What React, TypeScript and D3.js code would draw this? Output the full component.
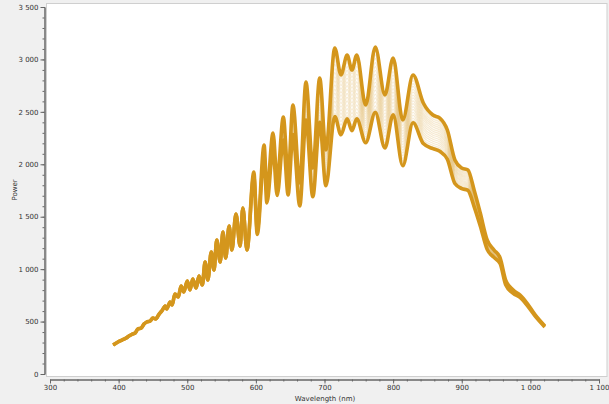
import React, { useRef, useEffect } from 'react'
import * as d3 from 'd3'

// sample wavelengths (nm) along the spectrum, peaks and troughs
const wavelengths = [
    392, 399, 405, 411, 415, 420, 424, 428, 433, 437, 441, 446, 450, 454, 459,
    463, 468, 470, 475, 478, 482, 487, 491, 495, 500, 504, 508, 513, 517, 522,
    526, 530, 535, 539, 543, 548, 552, 556, 561, 565, 571, 577, 581, 587, 597,
    602, 612, 616, 625, 631, 640, 647, 654, 664, 673, 683, 693, 702, 715, 724,
    733, 740, 747, 760, 774, 788, 800, 814, 829, 844, 858, 868, 879, 890, 900,
    909, 918, 927, 937, 947, 956, 964, 975, 985, 995, 1007, 1021,
]

// brightest spectrum in the set
const peakPower = [
    277, 305, 324, 343, 362, 381, 391, 429, 439, 477, 496, 505, 534, 525, 572,
    601, 649, 620, 687, 658, 763, 734, 839, 782, 887, 801, 906, 820, 935, 849,
    1068, 896, 1164, 992, 1278, 1068, 1354, 1106, 1411, 1183, 1526, 1221, 1583, 1183, 1926,
    1373, 2184, 1736, 2298, 1850, 2451, 1898, 2565, 1822, 2785, 1965, 2823, 2137, 3109, 2852,
    3042, 2899, 3042, 2565, 3119, 2661, 3014, 2422, 2852, 2585, 2470, 2441, 2327, 2041, 1965,
    1946, 1755, 1535, 1278, 1183, 1106, 896, 801, 753, 677, 563, 458,
]

// dimmest spectrum as a fraction of the brightest one
const dimRatio = [
    1, 1, 1, 1, 1, 1, 1, 1, 1, 1, 1, 1, 1, 1, 1,
    1, 1, 1, 1, 1, 1, 1, 1, 1, 1, 1, 1, 1, 1, 1,
    1, 1, 1, 1, 1, 1, 1, 1, 1, 1, 1, 1, 1, 1, 0.98,
    0.97, 0.95, 0.94, 0.93, 0.92, 0.91, 0.9, 0.89, 0.88, 0.87, 0.86, 0.85, 0.84, 0.79, 0.8,
    0.8, 0.8, 0.8, 0.86, 0.8, 0.81, 0.82, 0.82, 0.84, 0.85, 0.87, 0.87, 0.88, 0.89, 0.9,
    0.9, 0.91, 0.92, 0.93, 0.94, 0.95, 0.95, 0.96, 0.97, 0.97, 0.98, 0.98,
]

// position of each recorded spectrum between the brightest (0) and dimmest (1)
const curveLevels = [
    0, 0.06, 0.12, 0.18, 0.24, 0.3, 0.36, 0.42, 0.48, 0.54,
    0.6, 0.66, 0.72, 0.78, 0.84, 0.9, 0.95, 1,
]

const powerTicks = [0, 500, 1000, 1500, 2000, 2500, 3000, 3500]
const wavelengthTicks = [300, 400, 500, 600, 700, 800, 900, 1000, 1100]

const lineColor = '#d4961c'
const fontFamily = '"DejaVu Sans", Verdana, sans-serif'

const App = () => {
    const svgRef = useRef(null)

    useEffect(() => {
        const svg = d3.select(svgRef.current)
        const width = 609
        const height = 404

        const xScale = d3.scaleLinear().domain([300, 1100]).range([50, 599])
        const yScale = d3.scaleLinear().domain([0, 3500]).range([374, 7])

        svg.selectAll('*').remove()

        //background + plot frame
        svg.append('rect').attr('width', width).attr('height', height).attr('fill', '#f0f0f0')
        svg.append('rect')
            .attr('x', 46.5)
            .attr('y', 3.5)
            .attr('width', 560.5)
            .attr('height', 373)
            .attr('fill', '#fff')
            .attr('stroke', '#cfcfcf')

        const fmt = (d) => d3.format(',')(d).replace(',', ' ')

        //y axis, minor then major ticks
        svg.append('g')
            .attr('transform', 'translate(44.5,0)')
            .call(d3.axisLeft(yScale).tickValues(d3.range(0, 3501, 100)).tickSize(2).tickFormat(() => ''))
        const yAxis = svg.append('g')
            .attr('transform', 'translate(44.5,0)')
            .call(d3.axisLeft(yScale).tickValues(powerTicks).tickSize(4).tickSizeOuter(0).tickPadding(2).tickFormat(fmt))

        //x axis
        svg.append('g')
            .attr('transform', 'translate(0,379.5)')
            .call(d3.axisBottom(xScale).tickValues(d3.range(300, 1101, 20)).tickSize(2).tickFormat(() => ''))
        const xAxis = svg.append('g')
            .attr('transform', 'translate(0,379.5)')
            .call(d3.axisBottom(xScale).tickValues(wavelengthTicks).tickSize(4).tickSizeOuter(0).tickPadding(2).tickFormat(fmt))

        svg.selectAll('.domain, .tick line').attr('stroke', '#666')
        ;[yAxis, xAxis].forEach((g) =>
            g.selectAll('text').attr('fill', '#333').style('font-size', '7px').style('font-family', fontFamily)
        )

        //spectra
        const line = d3
            .line()
            .x((d) => xScale(d[0]))
            .y((d) => yScale(d[1]))
            .curve(d3.curveMonotoneX)

        const curveAt = (level) =>
            wavelengths.map((w, i) => [w, peakPower[i] * (1 - level * (1 - dimRatio[i]))])

        const inner = curveLevels.slice(1, -1)
        svg.append('g')
            .selectAll('path')
            .data(inner)
            .enter()
            .append('path')
            .attr('fill', 'none')
            .attr('stroke', lineColor)
            .attr('stroke-opacity', 0.2)
            .attr('stroke-width', 1.2)
            .attr('d', (l) => line(curveAt(l)))

        svg.append('g')
            .selectAll('path')
            .data([curveLevels[0], curveLevels[curveLevels.length - 1]])
            .enter()
            .append('path')
            .attr('fill', 'none')
            .attr('stroke', lineColor)
            .attr('stroke-width', 3.6)
            .attr('stroke-linejoin', 'round')
            .attr('d', (l) => line(curveAt(l)))

        //axis labels
        svg.append('text')
            .attr('x', 325)
            .attr('y', 401)
            .attr('text-anchor', 'middle')
            .attr('fill', '#333')
            .style('font-size', '7px')
            .style('font-family', fontFamily)
            .text('Wavelength (nm)')

        svg.append('text')
            .attr('transform', 'translate(17,190) rotate(-90)')
            .attr('text-anchor', 'middle')
            .attr('fill', '#333')
            .style('font-size', '7px')
            .style('font-family', fontFamily)
            .text('Power')
    }, [])

    return (
        <svg
            ref={svgRef}
            width={609}
            height={404}
            style={{ position: 'fixed', left: 0, top: 0, display: 'block' }}
        />
    )
}

export default App
